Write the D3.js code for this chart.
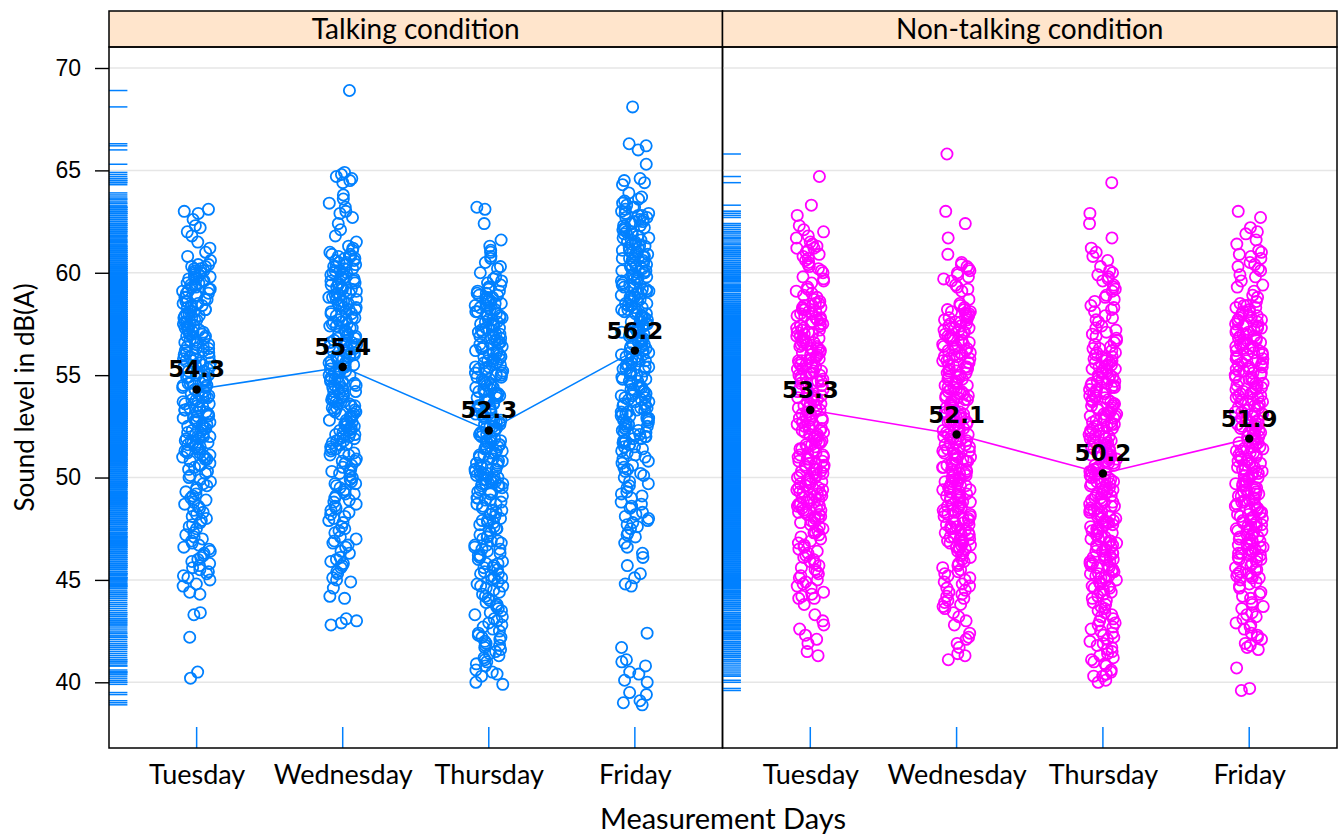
<!DOCTYPE html>
<html>
<head>
<meta charset="utf-8">
<script src="https://cdn.jsdelivr.net/npm/d3@7/dist/d3.min.js"></script>
<style>
  body { margin: 0; background: #fff; }
  svg { display: block; }
</style>
</head>
<body>
<svg id="chart" width="1338" height="837"></svg>
<script>
// categories and panels
const days = ['Tuesday', 'Wednesday', 'Thursday', 'Friday'];
const conditions = ['Talking condition', 'Non-talking condition'];
const yTicks = [40, 45, 50, 55, 60, 65, 70];

// mean labels
const talkingMeans = [54.3, 55.4, 52.3, 56.2];
const nonTalkingMeans = [53.3, 52.1, 50.2, 51.9];

// sound levels, in tenths of dB(A), read (estimated) off each strip
const talkingTue = `631 630 629 626 623 622 620 618 615 612 610 608 606 603 601
604 600 602 603 601 604 600 602
590 593 597 591 595 599 592 596 594 598 591 595 598 590 593 596 599 592 594 597
584 587 581 589 580 586 583 588 582 585 581 587 589 580 584 586 583 588 582 585
576 579 572 570 574 578 571 577 573 575 572 579 576 570 574 578 571 577 573 575
562 568 565 560 567 563 569 561 566 564 568 562 565 569 560 563 567 561 566 564
550 553 557 551 555 559 552 556 554 558 551 555 558 550 553 556 559 552 554 557
544 547 541 549 540 546 543 548 542 545 541 547 549 540 544 546 543 548 542 545
536 539 532 530 534 538 531 537 533 535 532 539 536 530 534 538 531 537 533 535
522 528 525 520 527 523 529 521 526 524 528 522 525 529 520 523 527 521 526 524
510 513 517 511 515 519 512 516 514 518 511 515 518 510 513 516 519 512 514 517
509 506 508 503 507 505 501 504 502 509 506 500
498 493 496 491 499 494 490 497 492 495
487 482 489 484 480 486 483 488 481 485
476 471 478 473 479 470 475 472 477
468 462 465 460 467 463 469 461 466 464
458 453 456 451 459 455 452 457 450 454
448 447 444 443 434 433 422 405 402`;

const talkingWed = `689 649 648 647 646 645 644 638 636 634 632 630 629 627 624 621 618 615 613 612 611 610
604 607 601 609 600 606 603 608 602 605 601 607 609 600 604 606 603 608 602 605
596 599 592 590 594 598 591 597 593 595 592 599 596 590 594 598 591 597 593 595
582 588 585 580 587 583 589 581 586 584 588 582 585 589 580 583 587 581 586 584
570 573 577 571 575 579 572 576 574 578 571 575 578 570 573 576 579 572 574 577
564 567 561 569 560 566 563 568 562 565 561 567 569 560 564 566 563 568 562 565
556 559 552 550 554 558 551 557 553 555 552 559 556 550 554 558 551 557 553 555
542 548 545 540 547 543 549 541 546 544 548 542 545 549 540 543 547 541 546 544
530 533 537 531 535 539 532 536 534 538 531 535 538 530 533 536 539 532 534 537
524 527 521 529 520 526 523 528 522 525 521 527 529 520 524 526 523 528 522 525
511 514 518 512 516 519 513 517 515 511 514 518 512 516 519
508 503 506 501 509 504 500 507 502 505 508 503
497 492 495 490 498 493 499 491 496 494 497 492
489 484 487 481 488 483 486 480 485 482
478 473 476 471 479 474 470 475
469 464 467 461 468 463 466 460
458 453 456 451 459 454 450 457
449 446 442 441 431 430 429 428`;

const talkingThu = `632 631 624 616 613 611
610 608 607 605 603 602 600 598 597 596 595 594 593 593 592 591 590 590 591
586 589 582 580 584 588 581 587 583 585 582 589 586 580 584 588 581 587 583 585
572 578 575 570 577 573 579 571 576 574 578 572 575 579 570 573 577 571 576 574
560 563 567 561 565 569 562 566 564 568 561 565 568 560 563 566 569 562 564 567
554 557 551 559 550 556 553 558 552 555 551 557 559 550 554 556 553 558 552 555
546 549 542 540 544 548 541 547 543 545 542 549 546 540 544 548 541 547 543 545
532 538 535 530 537 533 539 531 536 534 538 532 535 539 530 533 537 531 536 534
520 523 527 521 525 529 522 526 524 528 521 525 528 520 523 526 529 522 524 527
514 517 511 519 510 516 513 518 512 515 511 517 519 510 514 516 513 518 512 515
506 509 502 500 504 508 501 507 503 505 502 509 506 500 504 508 501 507 503 505
496 499 492 497 490 494 498 491 495 493 496 499 497 498 499 498 497 496 490 493
487 482 489 484 480 486 483 488 481 485 487 482 489 484
475 471 478 473 479 470 476 472 477 474 478 471 475 479
468 462 465 460 467 463 469 461 466 464 462 467 469 465
458 453 456 451 459 455 452 457 450 454 453 458 451 456
447 442 445 440 448 443 449 441 446 444 447
438 433 436 431 439 434 430 437 432 435 438
427 422 425 420 428 423 429 421 426 424 422
418 413 416 411 419 414 410 417 412 415 418
408 405 403 409 406 404 400 399`;

const talkingFri = `681 663 662 660 653 646 645 644 643
639 637 636 635 634 633 632 632 631 630
622 628 625 620 627 623 629 621 626 624 628 622 625 629 620 623 627 621 626 624
610 613 617 611 615 619 612 616 614 618 611 615 618 610 613 616 619 612 614 617
604 607 601 609 600 606 603 608 602 605 601 607 609 600 604 606 603 608 602 605
596 599 592 590 594 598 591 597 593 595 592 599 596 590 594 598 591 597 593 595
582 588 585 580 587 583 589 581 586 584 588 582 585 589 580 583 587 581 586 584
570 573 577 571 575 579 572 576 574 578 571 575 578 570 573 576 579 572 574 577
564 567 561 569 560 566 563 568 562 565 561 567 569 560 564 566 563 568 562 565
556 559 552 550 554 558 551 557 553 555 552 559 556 550 554 558 551 557 553 555
542 548 545 540 547 543 549 541 546 544 548 542 545 549 540 543 547 541 546 544
530 533 537 531 535 539 532 536 534 538 531 535 538 530 533 536 539 532 534 537
524 527 521 529 520 526 523 528 522 525 521 527 529 520 524 526 523 528 522 525
518 515 519 516 517 515 518 519 516 517 514 511 513 510 512
508 503 506 501 509 504 507 502 505 500
497 492 495 490 498 493 496 491
487 482 485 480 488 483 486 481
477 472 475 479 473 476 471 478
468 466 463 461 457 453 451 448 447
424 417 411 410 408 405 404 401 400 395 394 391 390 389`;

const nonTalkingTue = `647 633 628 623 621 620 618 617 615 614 613 612 612 611 610
608 603 606 601 609 604 600 607 602 605
597 592 595 590 598 593 596 591
586 587 588 589 580 583 585 581 584 582 580 583 585 581 584 582
574 577 571 579 570 576 573 578 572 575 571 577 579 570 574 576 573 578 572 575
566 569 562 560 564 568 561 567 563 565 562 569 566 560 564 568 561 567 563 565
552 558 555 550 557 553 559 551 556 554 558 552 555 559 550 553 557 551 556 554
540 543 547 541 545 549 542 546 544 548 541 545 548 540 543 546 549 542 544 547
534 537 531 539 530 536 533 538 532 535 531 537 539 530 534 536 533 538 532 535
526 529 522 520 524 528 521 527 523 525 522 529 526 520 524 528 521 527 523 525
512 518 515 510 517 513 519 511 516 514 518 512 515 519 510 513 517 511 516 514
500 503 507 501 505 509 502 506 504 508 501 505 508 500 503 506 509 502 504 507
494 497 491 499 490 496 493 498 492 495 491 497 499 490 494 496 493 498 492 495
486 489 482 480 484 488 481 487 483 485 482 489 486 480 484 488 481 487 483 485
478 473 476 471 479 474 470 477 472 475 478 473
468 463 466 461 469 464 460 467 462 465
458 453 456 451 459 454 450 457 452 455
448 443 446 441 449 444 447 442
441 438 433 430 428 426 423 421 419 415 413`;

const nonTalkingWed = `658 630 624 617 609
605 602 604 601 603 600
598 593 596 591 599 594 597 592
587 585 583 584 582 580 581 582 580 581
576 579 572 570 574 578 571 577 573 575 572 579 576 570 574 578 571 577 573 575
562 568 565 560 567 563 569 561 566 564 568 562 565 569 560 563 567 561 566 564
550 553 557 551 555 559 552 556 554 558 551 555 558 550 553 556 559 552 554 557
544 547 541 549 540 546 543 548 542 545 541 547 549 540 544 546 543 548 542 545
536 539 532 530 534 538 531 537 533 535 532 539 536 530 534 538 531 537 533 535
522 528 525 520 527 523 529 521 526 524 528 522 525 529 520 523 527 521 526 524
510 513 517 511 515 519 512 516 514 518 511 515 518 510 513 516 519 512 514 517
504 507 501 509 500 506 503 508 502 505 501 507 509 500 504 506 503 508 502 505
496 499 492 490 494 498 491 497 493 495 492 499 496 490 494 498 491 497 493 495
482 488 485 480 487 483 489 481 486 484 488 482 485 489 480 483 487 481 486 484
470 473 477 471 475 479 472 476 474 478 471 475 478 470 473 476 479 472 474 477
469 466 468 465 467 469 466 468 465 467 463 461 464 460 462
458 453 456 451 459 454 450 457 452 455
448 443 446 441 449 444 440 447 442 445
438 436 434 439 437
432 430 428 424 422 419 417 414 411 413 421`;

const nonTalkingThu = `644 629 624 617 612 610 608 606 603 601 600
598 593 596 591 599 594 597 592
588 583 586 581 589 584 587 582
578 573 576 571 579 574 570 577 572
568 563 566 561 569 564 560 567 562 565 563 561
552 558 555 550 557 553 559 551 556 554 558 552 555 559 550 553 557 551 556 554
540 543 547 541 545 549 542 546 544 548 541 545 548 540 543 546 549 542 544 547
534 537 531 539 530 536 533 538 532 535 531 537 539 530 534 536 533 538 532 535
526 529 522 520 524 528 521 527 523 525 522 529 526 520 524 528 521 527 523 525
512 518 515 510 517 513 519 511 516 514 518 512 515 519 510 513 517 511 516 514
500 503 507 501 505 509 502 506 504 508 501 505 508 500 503 506 509 502 504 507
494 497 491 499 490 496 493 498 492 495 491 497 499 490 494 496 493 498 492 495
486 489 482 480 484 488 481 487 483 485 482 489 486 480 484 488 481 487 483 485
472 478 475 470 477 473 479 471 476 474 478 472 475 479 470 473 477 471 476 474
460 463 467 461 465 469 462 466 464 468 461 465 468 460 463 466 469 462 464 467
454 457 451 459 450 456 453 458 452 455 451 457 459 450 454 456 453 458 452 455
448 446 449 447 445 444 448 446 443 441 442 440 444 447
438 433 436 431 439 434 430 437 432 435
428 423 426 421 429 424 420 427 422 425
418 413 416 411 419 414 410 417 412 415
408 405 403 409 406 404 403 401 400`;

const nonTalkingFri = `630 627 622 620 619 616 614 611 610 609
607 603 605 601 608 604 602
598 594 596 591 599 593
589 586 588 585 584 581 583 580 582 584 581 583
570 573 577 571 575 579 572 576 574 578 571 575 578 570 573 576 579 572 574 577
564 567 561 569 560 566 563 568 562 565 561 567 569 560 564 566 563 568 562 565
556 559 552 550 554 558 551 557 553 555 552 559 556 550 554 558 551 557 553 555
542 548 545 540 547 543 549 541 546 544 548 542 545 549 540 543 547 541 546 544
530 533 537 531 535 539 532 536 534 538 531 535 538 530 533 536 539 532 534 537
524 527 521 529 520 526 523 528 522 525 521 527 529 520 524 526 523 528 522 525
516 519 512 510 514 518 511 517 513 515 512 519 516 510 514 518 511 517 513 515
502 508 505 500 507 503 509 501 506 504 508 502 505 509 500 503 507 501 506 504
490 493 497 491 495 499 492 496 494 498 491 495 498 490 493 496 499 492 494 497
484 487 481 489 480 486 483 488 482 485 481 487 489 480 484 486 483 488 482 485
476 479 472 470 474 478 471 477 473 475 472 479 476 470 474 478 471 477 473 475
462 468 465 460 467 463 469 461 466 464 468 462 465 469 460 463 467 461 466 464
458 455 453 452 459 456 454 457 452 455 458 453 451 450 451
448 443 446 441 449 444 447 442
438 433 436 431 439 434 437 432
428 423 426 421 429 424 427 422
419 417 418 416 407 397 396`;

const parseLevels = (s) => s.trim().split(/\s+/).map((v) => +v / 10);

const panels = [
    { name: conditions[0], color: '#0080ff', means: talkingMeans,
      levels: [talkingTue, talkingWed, talkingThu, talkingFri].map(parseLevels) },
    { name: conditions[1], color: '#ff00ff', means: nonTalkingMeans,
      levels: [nonTalkingTue, nonTalkingWed, nonTalkingThu, nonTalkingFri].map(parseLevels) },
];

const RUG_COLOR = '#0080ff';
const STRIP_TOP = 11;
const PANEL_TOP = 47;
const PANEL_BOTTOM = 748;
const PANEL_X = [109, 722.5, 1337];
const JITTER = 14;
const LABEL_FONT = 'Lato, "Open Sans", sans-serif';

const svg = d3.select('#chart');
const y = d3.scaleLinear().domain([40, 70]).range([682.3, 68]);

// deterministic horizontal spread of the points around their day
function spread(i, k) {
    const s = Math.sin((i + 1) * 12.9898 + k * 78.233) * 43758.5453;
    return (s - Math.floor(s)) * 2 - 1;
}

panels.forEach((panel, p) => {
    const x0 = PANEL_X[p];
    const x1 = PANEL_X[p + 1];
    const x = d3.scalePoint().domain(days).range([x0, x1]).padding(0.6);
    const g = svg.append('g');

    // grid
    g.selectAll('line.grid').data(yTicks).enter().append('line')
        .attr('x1', x0).attr('x2', x1)
        .attr('y1', (d) => y(d)).attr('y2', (d) => y(d))
        .attr('stroke', '#e6e6e6').attr('stroke-width', 1.5);

    // rugs
    const allLevels = panel.levels.flat();
    const rugW = (x1 - x0) * 0.03;
    g.append('g').selectAll('line').data(allLevels).enter().append('line')
        .attr('x1', x0).attr('x2', x0 + rugW)
        .attr('y1', (d) => y(d)).attr('y2', (d) => y(d))
        .attr('stroke', RUG_COLOR).attr('stroke-width', 1.5);
    const rugH = (PANEL_BOTTOM - PANEL_TOP) * 0.03;
    g.append('g').selectAll('line').data(days).enter().append('line')
        .attr('x1', (d) => x(d)).attr('x2', (d) => x(d))
        .attr('y1', PANEL_BOTTOM - rugH).attr('y2', PANEL_BOTTOM)
        .attr('stroke', RUG_COLOR).attr('stroke-width', 1.5);

    // mean line (under the points)
    const line = d3.line().x((d, i) => x(days[i])).y((d) => y(d));
    g.append('path').datum(panel.means).attr('d', line)
        .attr('fill', 'none').attr('stroke', panel.color).attr('stroke-width', 1.6);

    // points
    panel.levels.forEach((levels, k) => {
        g.append('g').selectAll('circle').data(levels).enter().append('circle')
            .attr('cx', (d, i) => x(days[k]) + spread(i, k + p * 4) * JITTER)
            .attr('cy', (d) => y(d))
            .attr('r', 5.6)
            .attr('fill', 'none').attr('stroke', panel.color).attr('stroke-width', 1.8);
    });

    // means
    g.selectAll('circle.mean').data(panel.means).enter().append('circle')
        .attr('cx', (d, i) => x(days[i])).attr('cy', (d) => y(d)).attr('r', 4.2)
        .attr('fill', '#000');
    g.selectAll('text.mean').data(panel.means).enter().append('text')
        .attr('x', (d, i) => x(days[i])).attr('y', (d) => y(d) - 12)
        .attr('text-anchor', 'middle')
        .attr('font-family', '"DejaVu Sans", sans-serif').attr('font-weight', 'bold')
        .attr('font-size', 23).attr('fill', '#000')
        .text((d) => d.toFixed(1));

    // x axis labels
    const xAxis = g.append('g').attr('transform', `translate(0,${PANEL_BOTTOM})`)
        .call(d3.axisBottom(x).tickSize(0).tickPadding(17));
    xAxis.select('.domain').remove();
    xAxis.selectAll('text').attr('font-family', LABEL_FONT).attr('font-size', 27).attr('fill', '#000');

    // strip
    g.append('rect').attr('x', x0).attr('y', STRIP_TOP)
        .attr('width', x1 - x0).attr('height', PANEL_TOP - STRIP_TOP)
        .attr('fill', '#ffe5cc').attr('stroke', '#000').attr('stroke-width', 1.5);
    g.append('text').attr('x', (x0 + x1) / 2).attr('y', 39)
        .attr('text-anchor', 'middle').attr('font-family', LABEL_FONT)
        .attr('font-size', 28).attr('fill', '#000').text(panel.name);

    // frame
    g.append('rect').attr('x', x0).attr('y', PANEL_TOP)
        .attr('width', x1 - x0).attr('height', PANEL_BOTTOM - PANEL_TOP)
        .attr('fill', 'none').attr('stroke', '#000').attr('stroke-width', 1.5);
});

// y axis
const yAxis = svg.append('g').attr('transform', `translate(${PANEL_X[0]},0)`)
    .call(d3.axisLeft(y).tickValues(yTicks).tickSize(14).tickPadding(14));
yAxis.select('.domain').remove();
yAxis.selectAll('line').attr('stroke', '#000').attr('stroke-width', 1.4);
yAxis.selectAll('text').attr('font-family', '"Liberation Sans", Arial, sans-serif')
    .attr('font-size', 23).attr('fill', '#000');

// axis titles
svg.append('text').attr('x', (PANEL_X[0] + PANEL_X[2]) / 2).attr('y', 829)
    .attr('text-anchor', 'middle').attr('font-family', LABEL_FONT)
    .attr('font-size', 29).attr('fill', '#000').text('Measurement Days');
svg.append('text')
    .attr('transform', `translate(34,${(PANEL_TOP + PANEL_BOTTOM) / 2}) rotate(-90)`)
    .attr('text-anchor', 'middle').attr('font-family', LABEL_FONT)
    .attr('font-size', 26).attr('fill', '#000').text('Sound level in dB(A)');
</script>
</body>
</html>
